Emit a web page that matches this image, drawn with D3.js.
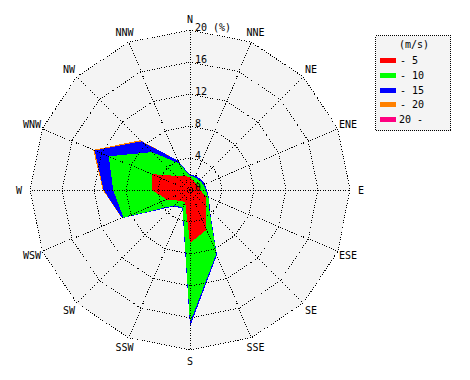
<!DOCTYPE html>
<html><head><meta charset="utf-8">
<script src="https://cdn.jsdelivr.net/npm/d3@7"></script>
<style>
html,body{margin:0;padding:0;background:#fff;}
svg{display:block;}
text{font-family:"DejaVu Sans Mono",monospace;font-size:10px;fill:#000;}
</style></head>
<body>
<svg id="chart" width="470" height="380"></svg>
<script>
// Wind directions (clockwise from North)
const directions = ["N","NNE","NE","ENE","E","ESE","SE","SSE","S","SSW","SW","WSW","W","WNW","NW","NNW"];
// Cumulative frequency (%) per speed class
const speedClasses = ["- 5","- 10","- 15","- 20","20 -"];
const cum5  = [1.6,1.2,1.1,1.2,1.3,2.1,2.75,5.4,6.6,1.6,1.9,3.1,4.8,5.2,2.5,1.9];
const cum10 = [1.8,1.7,1.7,1.8,2.0,2.5,3.4,8.6,16.6,2.4,2.7,9.0,9.6,11.0,6.7,3.6];
const cum15 = [1.9,1.9,1.9,2.0,2.1,2.6,3.5,8.8,17.1,2.5,2.9,9.2,10.8,12.9,8.6,4.0];
const cum20 = [1.9,1.9,1.9,2.0,2.1,2.6,3.5,8.8,17.1,2.5,2.9,9.2,10.9,13.1,8.8,4.0];
const cumAll= [1.9,1.9,1.9,2.0,2.1,2.6,3.5,8.8,17.1,2.5,2.9,9.2,10.9,13.1,8.8,4.0];
const ringTicks = [0,4,8,12,16,20];
const colors = ["#ff0000","#00ff00","#0000ff","#ff8000","#ff0080"];

const svg = d3.select("#chart");
const cx = 190, cy = 190;
const r = d3.scaleLinear().domain([0,20]).range([0,160]);
const ang = d3.scaleLinear().domain([0,directions.length]).range([0,2*Math.PI]);
const g = svg.append("g").attr("transform",`translate(${cx},${cy})`);

const ringLine = v => d3.lineRadial().angle((d,i)=>ang(i)).radius(()=>r(v)).curve(d3.curveLinearClosed)(directions);
const seriesLine = d3.lineRadial().angle((d,i)=>ang(i)).radius(d=>r(d)).curve(d3.curveLinearClosed);

// background
g.append("path").attr("d",ringLine(20)).attr("fill","#f4f4f4").attr("stroke","none");

// series polygons, outermost first
const series = [cum5,cum10,cum15,cum20,cumAll];
for(let k=series.length-1;k>=0;k--){
  g.append("path").attr("d",seriesLine(series[k])).attr("fill",colors[k]).attr("stroke","none")
   .attr("shape-rendering","crispEdges");
}

// grid rings
ringTicks.filter(v=>v>0).forEach(v=>{
  g.append("path").attr("d",ringLine(v)).attr("fill","none").attr("stroke","#000")
   .attr("stroke-width",1).attr("stroke-dasharray","1,1.5").attr("shape-rendering","crispEdges");
});
// spokes
directions.forEach((d,i)=>{
  const a = ang(i);
  g.append("line").attr("x1",0).attr("y1",0)
   .attr("x2",r(20)*Math.sin(a)).attr("y2",-r(20)*Math.cos(a))
   .attr("stroke","#000").attr("stroke-width",1).attr("stroke-dasharray","1,1.5").attr("shape-rendering","crispEdges");
});

// ring labels
ringTicks.forEach(v=>{
  g.append("text").attr("x",5).attr("y",-r(v)-3).attr("dominant-baseline","central")
   .text(v===20 ? "20 (%)" : String(v));
});

// direction labels
directions.forEach((d,i)=>{
  const a = ang(i), rr = 171;
  g.append("text").attr("x",rr*Math.sin(a)).attr("y",-rr*Math.cos(a))
   .attr("text-anchor","middle").attr("dominant-baseline","central").text(d);
});

// legend
const lg = svg.append("g");
lg.append("rect").attr("x",375.5).attr("y",35.5).attr("width",75).attr("height",95)
  .attr("fill","#f4f4f4").attr("stroke","#000").attr("stroke-dasharray","1,1").attr("shape-rendering","crispEdges");
lg.append("text").attr("x",414).attr("y",44.5).attr("text-anchor","middle").attr("dominant-baseline","central").text("(m/s)");
speedClasses.forEach((s,i)=>{
  const y = 60 + i*14.8;
  lg.append("rect").attr("x",380).attr("y",Math.round(y)-2).attr("width",16).attr("height",5).attr("fill",colors[i]);
  lg.append("text").attr("x",s.startsWith("-")?400:399).attr("y",y+0.5).attr("dominant-baseline","central").text(s);
});
</script>
</body></html>
